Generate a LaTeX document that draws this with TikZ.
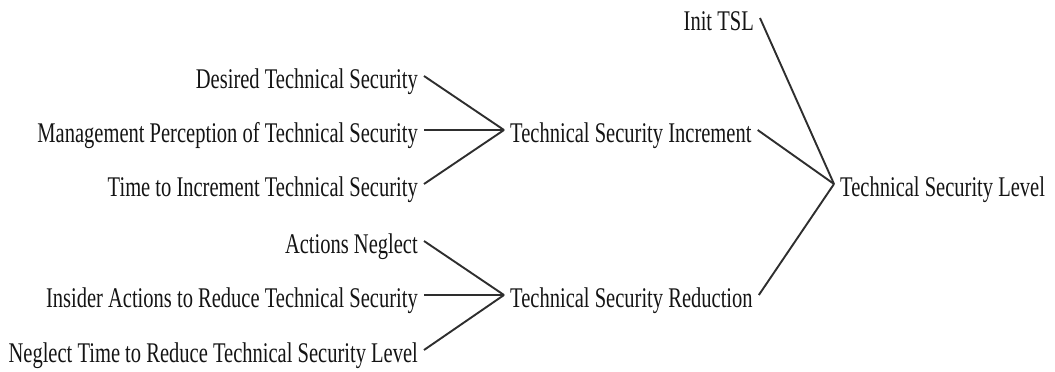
\documentclass[tikz,border=0pt]{standalone}
\usepackage{fontspec}
\setmainfont[FakeStretch=0.72]{Liberation Serif}
\begin{document}
\begin{tikzpicture}[x=1pt,y=-1pt,
  var/.style={inner xsep=6pt, inner ysep=0pt, text height=24pt, text depth=0pt,
    font=\fontsize{28.5}{30}\selectfont, text=black!92},
  src/.style={var, anchor=base east},
  dst/.style={var, anchor=base west},
  link/.style={line width=1.9pt, draw=black!82}]
\useasboundingbox (0,0) rectangle (1055,372);

% causes of the increment flow
\node[src] (desired) at (424,88)  {Desired Technical Security};
\node[src] (mgmt)    at (424,142) {Management Perception of Technical Security};
\node[src] (timeinc) at (424,196) {Time to Increment Technical Security};

% causes of the reduction flow
\node[src] (neglect) at (424,253) {Actions Neglect};
\node[src] (insider) at (424,307) {Insider Actions to Reduce Technical Security};
\node[src] (negtime) at (424,362) {Neglect Time to Reduce Technical Security Level};

% flows
\node[dst] (inc) at (504,142) {Technical Security Increment};
\node[dst] (red) at (504,307) {Technical Security Reduction};

% stock and its initial value
\node[src] (init)  at (760,30)  {Init TSL};
\node[dst] (level) at (834,196) {Technical Security Level};

\draw[link] (desired.east) -- (inc.west);
\draw[link] (mgmt.east)    -- (inc.west);
\draw[link] (timeinc.east) -- (inc.west);

\draw[link] (neglect.east) -- (red.west);
\draw[link] (insider.east) -- (red.west);
\draw[link] (negtime.east) -- (red.west);

\draw[link] (init.east) -- (level.west);
\draw[link] (inc.east)  -- (level.west);
\draw[link] (red.east)  -- (level.west);
\end{tikzpicture}
\end{document}
